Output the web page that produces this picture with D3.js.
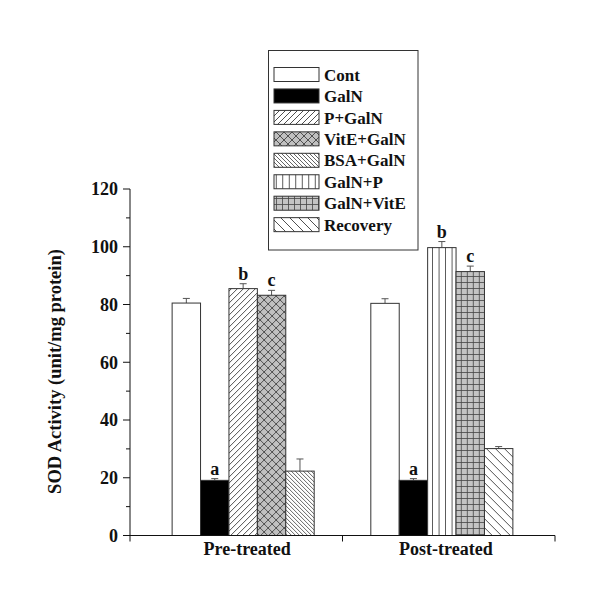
<!DOCTYPE html>
<html>
<head>
<meta charset="utf-8">
<script src="https://cdn.jsdelivr.net/npm/d3@7"></script>
<style>
  html, body { margin: 0; padding: 0; background: #fff; }
  text { font-family: "Liberation Serif", "Times New Roman", serif; font-weight: bold; fill: #111; }
</style>
</head>
<body>
<svg id="chart" width="600" height="608"></svg>
<script>
// ---- data ----
const categories = ["Pre-treated", "Post-treated"];
const legendNames = ["Cont", "GalN", "P+GalN", "VitE+GalN", "BSA+GalN", "GalN+P", "GalN+VitE", "Recovery"];
const preSeries = ["Cont", "GalN", "P+GalN", "VitE+GalN", "BSA+GalN"];
const preValues = [80.5, 19.1, 85.5, 83.2, 22.3];
const preErrors = [1.6, 0.6, 1.7, 1.7, 4.2];
const preLetters = ["", "a", "b", "c", ""];
const postSeries = ["Cont", "GalN", "GalN+P", "GalN+VitE", "Recovery"];
const postValues = [80.4, 19.1, 99.7, 91.4, 30.1];
const postErrors = [1.6, 0.6, 2.1, 1.9, 0.7];
const postLetters = ["", "a", "b", "c", ""];
const yTicks = [0, 20, 40, 60, 80, 100, 120];
const yMinorTicks = [10, 30, 50, 70, 90, 110];
const yTitle = "SOD Activity (unit/mg protein)";

const groups = [
  { cat: categories[0], series: preSeries, values: preValues, errors: preErrors, letters: preLetters },
  { cat: categories[1], series: postSeries, values: postValues, errors: postErrors, letters: postLetters }
];

const svg = d3.select("#chart");
const x0 = 130, x1 = 555, yBottom = 535.5, yTop = 189;

const y = d3.scaleLinear().domain([0, 120]).range([yBottom, yTop]);
const xg = d3.scaleBand().domain(categories).range([x0, x1]).paddingInner(0.285).paddingOuter(0.212);
const xi = d3.scaleBand().domain(d3.range(5)).range([0, xg.bandwidth()]).padding(0);

// ---- patterns ----
const defs = svg.append("defs");
function pat(id, size, bg, draw) {
  const p = defs.append("pattern").attr("id", id).attr("patternUnits", "userSpaceOnUse")
    .attr("width", size).attr("height", size);
  p.append("rect").attr("width", size).attr("height", size).attr("fill", bg);
  draw(p, size);
}
pat("pFwd", 6, "#fff", (p, s) => {
  p.append("path").attr("d", `M0,${s} L${s},0 M${-s/2},${s/2} L${s/2},${-s/2} M${s/2},${s*1.5} L${s*1.5},${s/2}`)
    .attr("stroke", "#222").attr("stroke-width", 0.8);
});
pat("pCross", 8, "#c0c0c0", (p, s) => {
  p.append("path").attr("d", `M0,${s} L${s},0 M0,0 L${s},${s} M${-s/2},${s/2} L${s/2},${-s/2} M${s/2},${s*1.5} L${s*1.5},${s/2} M${-s/2},${s/2} L${s/2},${s*1.5} M${s/2},${-s/2} L${s*1.5},${s/2}`)
    .attr("stroke", "#333").attr("stroke-width", 0.8);
});
pat("pBackDense", 4, "#fff", (p, s) => {
  p.append("path").attr("d", `M0,0 L${s},${s} M${-s/2},${s/2} L${s/2},${s*1.5} M${s/2},${-s/2} L${s*1.5},${s/2}`)
    .attr("stroke", "#222").attr("stroke-width", 0.7);
});
pat("pVert", 6.5, "#fff", (p, s) => {
  p.append("path").attr("d", `M${s/2},0 L${s/2},${s}`).attr("stroke", "#333").attr("stroke-width", 0.8);
});
pat("pGrid", 6, "#c4c4c4", (p, s) => {
  p.append("path").attr("d", `M0,0.5 L${s},0.5 M0.5,0 L0.5,${s}`).attr("stroke", "#444").attr("stroke-width", 0.8);
});
pat("pBackWide", 9, "#fff", (p, s) => {
  p.append("path").attr("d", `M0,0 L${s},${s} M${-s/2},${s/2} L${s/2},${s*1.5} M${s/2},${-s/2} L${s*1.5},${s/2}`)
    .attr("stroke", "#222").attr("stroke-width", 0.8);
});

const fills = {
  "Cont": "#fff",
  "GalN": "#000",
  "P+GalN": "url(#pFwd)",
  "VitE+GalN": "url(#pCross)",
  "BSA+GalN": "url(#pBackDense)",
  "GalN+P": "url(#pVert)",
  "GalN+VitE": "url(#pGrid)",
  "Recovery": "url(#pBackWide)"
};

// ---- bars ----
groups.forEach(g => {
  const gx = xg(g.cat);
  const gg = svg.append("g").attr("transform", `translate(${gx},0)`);
  g.series.forEach((s, i) => {
    const bx = xi(i), bw = xi.bandwidth();
    const v = g.values[i], e = g.errors[i];
    const cx = bx + bw / 2;
    gg.append("line").attr("x1", cx).attr("x2", cx).attr("y1", y(v)).attr("y2", y(v + e))
      .attr("stroke", "#555").attr("stroke-width", 1);
    gg.append("line").attr("x1", cx - 3.5).attr("x2", cx + 3.5).attr("y1", y(v + e)).attr("y2", y(v + e))
      .attr("stroke", "#555").attr("stroke-width", 1);
    gg.append("rect").attr("x", bx).attr("y", y(v)).attr("width", bw).attr("height", y(0) - y(v))
      .attr("fill", fills[s]).attr("stroke", "#333").attr("stroke-width", 1);
    if (g.letters[i]) {
      gg.append("text").attr("x", cx).attr("y", y(v + e) - 4).attr("text-anchor", "middle")
        .attr("font-size", 18).text(g.letters[i]);
    }
  });
});

// ---- axes ----
const axisColor = "#111";
svg.append("line").attr("x1", x0).attr("x2", x0).attr("y1", yTop).attr("y2", yBottom).attr("stroke", axisColor);
svg.append("line").attr("x1", x0).attr("x2", x1).attr("y1", yBottom).attr("y2", yBottom).attr("stroke", axisColor);
yTicks.forEach(t => {
  svg.append("line").attr("x1", x0 - 7).attr("x2", x0).attr("y1", y(t)).attr("y2", y(t)).attr("stroke", axisColor);
  svg.append("text").attr("x", x0 - 12).attr("y", y(t)).attr("dy", "0.35em").attr("text-anchor", "end")
    .attr("font-size", 18).text(t);
});
yMinorTicks.forEach(t => {
  svg.append("line").attr("x1", x0 - 4).attr("x2", x0).attr("y1", y(t)).attr("y2", y(t)).attr("stroke", axisColor);
});
[x0, (x0 + x1) / 2, x1].forEach(t => {
  svg.append("line").attr("x1", t).attr("x2", t).attr("y1", yBottom).attr("y2", yBottom + 6).attr("stroke", axisColor);
});
groups.forEach(g => {
  svg.append("text").attr("x", xg(g.cat) + xg.bandwidth() / 2 + 4).attr("y", 555)
    .attr("text-anchor", "middle").attr("font-size", 18).text(g.cat);
});
svg.append("text").attr("transform", `translate(61,${(246 + 497) / 2}) rotate(-90)`)
  .attr("text-anchor", "middle").attr("font-size", 18.5).text(yTitle);

// ---- legend ----
const lg = svg.append("g");
lg.append("rect").attr("x", 268.5).attr("y", 50.5).attr("width", 149.5).attr("height", 199.5)
  .attr("fill", "#fff").attr("stroke", "#333").attr("stroke-width", 1);
legendNames.forEach((n, i) => {
  const ly = 67.5 + i * 21.45;
  lg.append("rect").attr("x", 274).attr("y", ly).attr("width", 45).attr("height", 14)
    .attr("fill", fills[n]).attr("stroke", "#333").attr("stroke-width", 1);
  lg.append("text").attr("x", 324).attr("y", ly + 7).attr("dy", "0.36em").attr("font-size", 17).text(n);
});
</script>
</body>
</html>
